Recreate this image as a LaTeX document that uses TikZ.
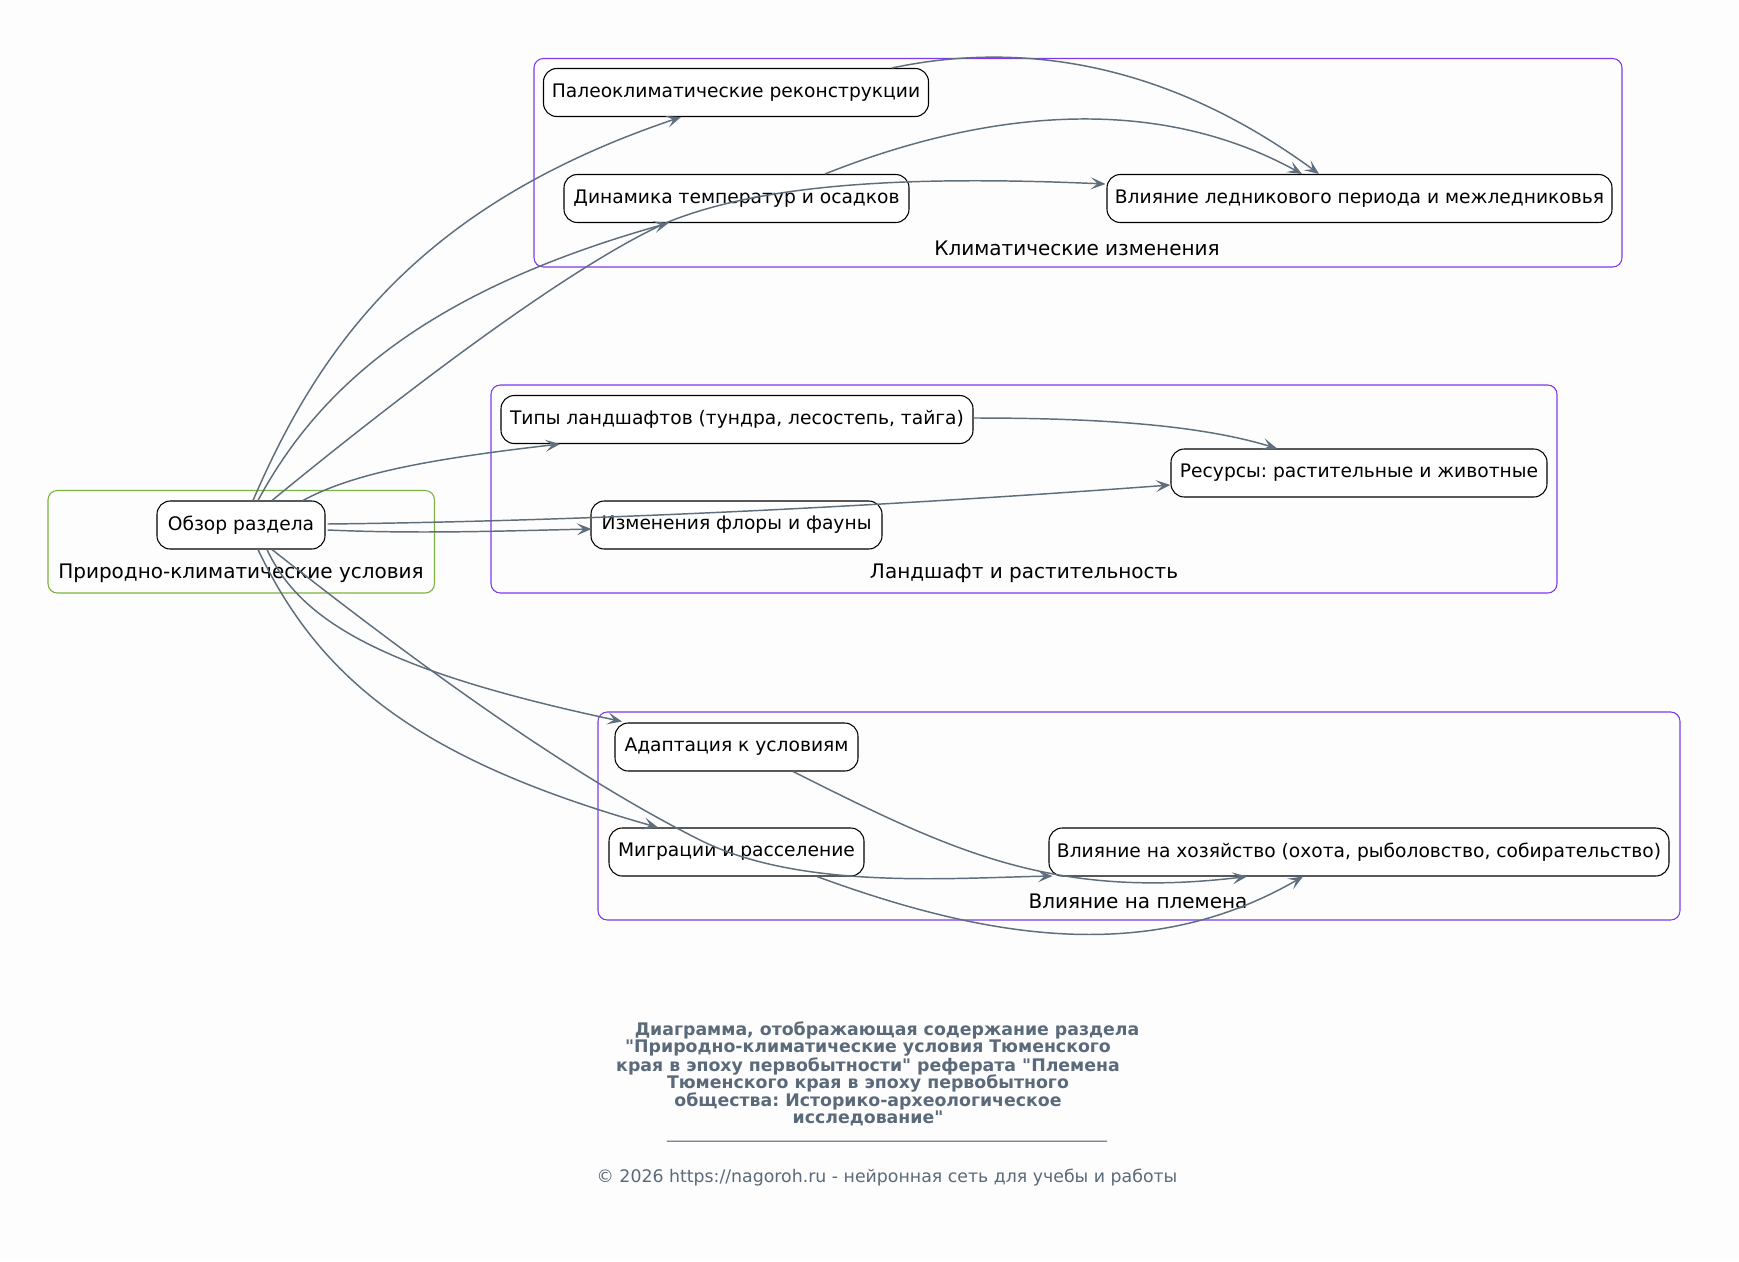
\documentclass[tikz,border=0pt]{standalone}
\usepackage{fontspec}
\setmainfont{DejaVu Sans}
\usetikzlibrary{arrows.meta,calc}
\definecolor{bgc}{HTML}{FDFDFD}
\definecolor{edgec}{HTML}{5F6E7D}
\definecolor{capc}{HTML}{5A6A7A}
\definecolor{violetc}{HTML}{7C3AED}
\definecolor{greenc}{HTML}{7CB342}
\newcommand{\dq}{\textquotedbl}
\tikzset{
  box/.style={draw=black, fill=white, rounded corners=10pt, line width=0.8pt,
    inner sep=0pt, minimum height=36pt, align=center,
    font=\fontsize{14}{16}\selectfont, text=black},
  bw/.style={minimum width=#1*0.75pt},
  clusterv/.style={draw=violetc, line width=0.8pt, rounded corners=7pt},
  clusterg/.style={draw=greenc, line width=0.8pt, rounded corners=7pt},
  clabel/.style={font=\fontsize{15}{17}\selectfont, text=black, inner sep=0pt},
  edge/.style={draw=edgec, line width=1.1pt,
    -{Stealth[length=11pt, width=9pt, inset=5pt]}},
  captext/.style={font=\fontsize{13}{14}\selectfont\bfseries, text=capc, inner sep=0pt},
  copytext/.style={font=\fontsize{13}{15}\selectfont, text=capc, inner sep=0pt},
  ruletext/.style={font=\fontsize{12}{14}\selectfont, text=capc, inner sep=0pt}
}
\begin{document}
\frenchspacing
\begin{tikzpicture}[x=0.75pt,y=-0.75pt]
\useasboundingbox (0,0) rectangle (1739,1261);
\fill[bgc] (0,0) rectangle (1739,1261);

% clusters
\draw[clusterv] (534,58.5) rectangle (1622,267);
\draw[clusterv] (491,385) rectangle (1557,593);
\draw[clusterg] (48,490.5) rectangle (434.5,593);
\draw[clusterv] (598,712) rectangle (1680,920);

\node[clabel] (lclim) at (1077,248) {Климатические изменения};
\node[clabel] (lland) at (1024,573) {Ландшафт и растительность};
\node[clabel] (lprir) at (241,573) {Природно-климатические условия};
\node[clabel] (linfl) at (1138,901) {Влияние на племена};

% nodes
\node[box, bw=168] (obz) at (241,525) {Обзор раздела};
\node[box, bw=385] (paleo) at (736,92.5) {Палеоклиматические реконструкции};
\node[box, bw=345] (dyn) at (736.5,198.5) {Динамика температур и осадков};
\node[box, bw=505] (glac) at (1359.5,198.5) {Влияние ледникового периода и межледниковья};
\node[box, bw=472] (types) at (737,419.5) {Типы ландшафтов (тундра, лесостепь, тайга)};
\node[box, bw=291] (izm) at (736.5,525) {Изменения флоры и фауны};
\node[box, bw=376] (res) at (1359,473) {Ресурсы: растительные и животные};
\node[box, bw=243] (adap) at (736.5,747) {Адаптация к условиям};
\node[box, bw=255] (migr) at (736.5,852) {Миграции и расселение};
\node[box, bw=620] (hoz) at (1359,852) {Влияние на хозяйство (охота, рыболовство, собирательство)};

% edges
\draw[edge] ($(obz.north)+(12,0)$) .. controls (320,345) and (420,205) .. ($(paleo.south)+(-55,0)$);
\draw[edge] ($(obz.north)+(17,0)$) .. controls (320,385) and (430,290) .. ($(dyn.south)+(-68,0)$);
\draw[edge] ($(obz.north)+(31,0)$) .. controls (370,420) and (560,270) .. (668,222)
   .. controls (760,185) and (900,175) .. ($(glac.west)+(-1,-14.5)$);
\draw[edge] ($(paleo.north)+(156,0)$) .. controls (1000,45) and (1150,50) .. ($(glac.north)+(-40.5,0)$);
\draw[edge] ($(dyn.north)+(88.5,0)$) .. controls (960,120) and (1140,85) .. ($(glac.north)+(-57.5,0)$);
\draw[edge] ($(obz.north)+(62,0)$) .. controls (350,475) and (420,460) .. ($(types.south)+(-177,0)$);
\draw[edge] ($(obz.east)+(2,-1)$) .. controls (600,521) and (900,505) .. ($(res.west)+(0,12)$);
\draw[edge] ($(obz.east)+(2,5)$) .. controls (420,534) and (500,531) .. ($(izm.west)+(1,4)$);
\draw[edge] ($(types.east)+(0,-1.5)$) .. controls (1100,418) and (1200,425) .. ($(res.north)+(-82,0)$);
\draw[edge] ($(obz.south)+(26,0)$) .. controls (300,620) and (380,670) .. ($(adap.north)+(-114.5,-1)$);
\draw[edge] ($(obz.south)+(17,0)$) .. controls (320,680) and (420,760) .. ($(migr.north)+(-78.5,0)$);
\draw[edge] ($(obz.south)+(31,0)$) .. controls (400,650) and (560,770) .. (700,840)
   .. controls (800,890) and (950,878) .. ($(hoz.west)+(4,24)$);
\draw[edge] ($(adap.south)+(56.5,0)$) .. controls (950,850) and (1050,900) .. ($(hoz.south)+(-112,0)$);
\draw[edge] ($(migr.south)+(80.5,0)$) .. controls (990,940) and (1150,965) .. ($(hoz.south)+(-56,0)$);

% caption
\node[captext] (cap1) at (887,1030) {Диаграмма, отображающая содержание раздела};
\node[captext] (cap2) at (868,1048) {\dq Природно-климатические условия Тюменского};
\node[captext] (cap3) at (868,1066) {края в эпоху первобытности\dq{} реферата \dq Племена};
\node[captext] (cap4) at (868,1083.5) {Тюменского края в эпоху первобытного};
\node[captext] (cap5) at (868,1101) {общества: Историко-археологическое};
\node[captext] (cap6) at (868,1118) {исследование\dq};
\node[ruletext] (rule) at (887,1140) {\_\_\_\_\_\_\_\_\_\_\_\_\_\_\_\_\_\_\_\_\_\_\_\_\_\_\_\_\_\_\_\_\_\_\_\_\_\_\_\_\_\_\_\_\_\_\_\_\_\_\_\_\_\_\_};
\node[copytext] (copy) at (887,1177.5) {© 2026 https://nagoroh.ru - нейронная сеть для учебы и работы};
\end{tikzpicture}
\end{document}
